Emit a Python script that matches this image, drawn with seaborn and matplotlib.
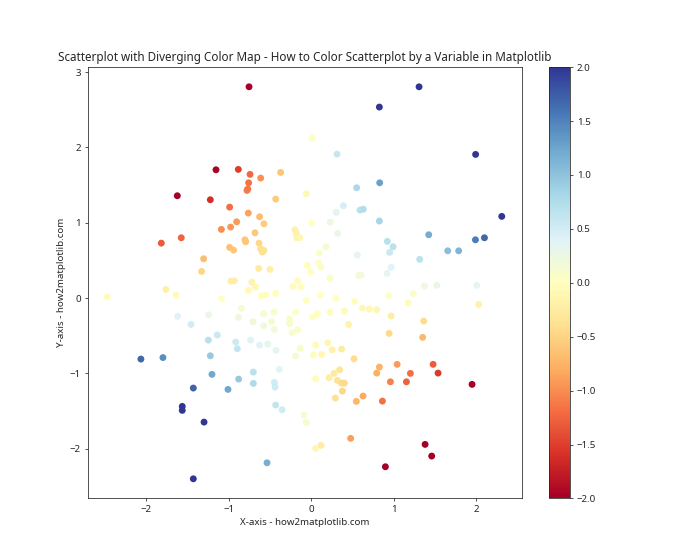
import matplotlib
matplotlib.use("Agg")
import matplotlib.pyplot as plt
import seaborn as sns
import pandas as pd
import numpy as np

x_values = [
    -1.155, -0.885, -1.624, -1.224, -0.99,
    -0.755, 0.824, 0.008, 0.311, -0.743, -0.76, -0.77, -0.78, -0.614, -0.372, -0.432, -0.061, 0.549, 0.828,
    0.388, 0.303, 0.59, 0.63, -0.764,
    1.305, 1.99,
    -0.905, -0.978, -1.09, -1.576, -1.818, -0.99, -0.942, -1.305, -1.33, -0.974, -0.933, -1.762, -1.64,
    -2.473, -1.087, -0.848, -0.885, -1.62, -1.458, -1.245, -1.139, -1.248, -0.917, -0.897, -1.224, -1.798, -2.065,
    -0.627, -0.574, -0.683, -0.804, -0.796, -0.634, -0.614, -0.574, -0.594, 0.004, 0.23, 0.319, -0.198,
    -0.182, -0.178, -0.142, 0.097, 0.178, 0.558, -0.048, 0.089, 0.117, -0.008, 0.226, 0.574, 0.602,
    -0.166, -0.222, -0.125, -0.638, -0.5, -0.723, -0.675, -0.764, -0.606, -0.553, -0.432, -0.061, 0.105,
    0.295, 0.525, 0.618, 0.703, 0.792, 0.4, 0.226, 0.073, 0.016, -0.19, -0.263, -0.263, -0.166, -0.234,
    0.452, -0.452, -0.578, -0.707, -0.481, -0.578, -0.448, -0.736, -0.627, -0.53, -0.428, -0.133, 0.052,
    0.125, 0.024, 0.198, 0.251, 0.367, -0.19, 0.517,
    2.307, 0.824, 1.422, 1.988, 2.097, 1.652, 1.785, 0.921, 0.99, 0.949, 1.313, 0.966, 0.918, 1.37, 1.519,
    2.004, 1.236, 0.933, 1.172, 2.028, 0.966, 1.361, 0.942, 1.349,
    -1.204, -0.881, -1.43, -1.01, -1.564, -1.564, -1.3, -1.43,
    -0.703, -0.703, -0.388, -0.448, -0.44, -0.432, -0.354, -0.088, -0.061, 0.052, 0.117, -0.537, 0.476,
    0.052, 0.343, 0.214, 0.275, 0.315, 0.364, 0.4, 0.376, 0.291, 0.545, 0.626, 0.824, 0.792, 0.861,
    1.039, 0.958, 1.152, 1.2, 1.475, 1.535, 1.947, 1.378, 1.458, 0.897,
]
y_values = [
    1.704, 1.709, 1.359, 1.306, 1.208,
    2.806, 2.537, 2.125, 1.912, 1.643, 1.531, 1.45, 1.43, 1.594, 1.669, 1.315, 1.385, 1.465, 1.531,
    1.226, 1.138, 1.169, 1.18, 1.129,
    2.806, 1.908,
    1.013, 0.943, 0.912, 0.801, 0.73, 0.673, 0.637, 0.522, 0.354, 0.226, 0.23, 0.115, 0.04,
    0.017, -0.009, -0.137, -0.256, -0.243, -0.35, -0.222, -0.491, -0.558, -0.584, -0.673, -0.766, -0.79, -0.81,
    1.08, 0.987, 0.867, 0.774, 0.748, 0.73, 0.655, 0.633, 0.611, 1.0, 1.009, 0.859, 0.907,
    0.863, 0.801, 0.801, 0.598, 0.681, 0.571, 0.434, 0.465, 0.412, 0.345, 0.266, 0.301, 0.305,
    0.23, 0.155, 0.146, 0.394, 0.381, 0.212, 0.146, 0.102, 0.03, 0.04, 0.062, -0.031, 0.04,
    0.0, -0.044, -0.133, -0.146, -0.155, -0.173, -0.186, -0.208, -0.252, -0.186, -0.279, -0.341, -0.421, -0.456,
    -0.35, -0.186, -0.208, -0.314, -0.314, -0.367, -0.416, -0.558, -0.624, -0.611, -0.695, -0.668, -0.624,
    -0.748, -0.753, -0.594, -0.687, -0.677, -0.77, -0.806,
    1.085, 1.023, 0.841, 0.774, 0.801, 0.628, 0.628, 0.753, 0.681, 0.607, 0.514, 0.408, 0.328, 0.159, 0.169,
    0.169, 0.057, 0.031, -0.066, -0.084, -0.239, -0.305, -0.469, -0.522,
    -1.013, -1.076, -1.195, -1.213, -1.438, -1.491, -1.647, -2.4,
    -0.983, -1.133, -0.947, -1.12, -1.182, -1.421, -1.483, -1.554, -1.651, -1.996, -1.956, -2.187, -1.863,
    -1.072, -0.952, -1.058, -1.0, -1.093, -1.129, -1.129, -1.235, -1.328, -1.372, -1.301, -0.916, -0.996, -1.368,
    -0.88, -1.112, -1.112, -1.0, -0.88, -0.996, -1.146, -1.943, -2.098, -2.24,
]

colorbar_ticks = [-2.0, -1.5, -1.0, -0.5, 0.0, 0.5, 1.0, 1.5, 2.0]

df = pd.DataFrame({"x": x_values, "y": y_values})
df["value"] = df["x"] * df["y"]

sns.set_style("ticks")
plt.rcParams["font.family"] = ["Noto Sans", "DejaVu Sans"]

fig, ax = plt.subplots(figsize=(10, 8), dpi=70)
sns.scatterplot(data=df, x="x", y="y", hue="value", palette="RdYlBu",
                hue_norm=(-2, 2), s=50, linewidth=0, edgecolor="none",
                legend=False, ax=ax)

norm = matplotlib.colors.Normalize(vmin=-2, vmax=2)
sm = matplotlib.cm.ScalarMappable(cmap="RdYlBu", norm=norm)
sm.set_array([])
cbar = fig.colorbar(sm, ax=ax)
cbar.set_ticks(colorbar_ticks)

ax.set_title("Scatterplot with Diverging Color Map - How to Color Scatterplot by a Variable in Matplotlib")
ax.set_xlabel("X-axis - how2matplotlib.com")
ax.set_ylabel("Y-axis - how2matplotlib.com")
ax.set_xticks([-2, -1, 0, 1, 2])
ax.set_yticks([-2, -1, 0, 1, 2, 3])

fig.savefig("out.png", dpi=70)
